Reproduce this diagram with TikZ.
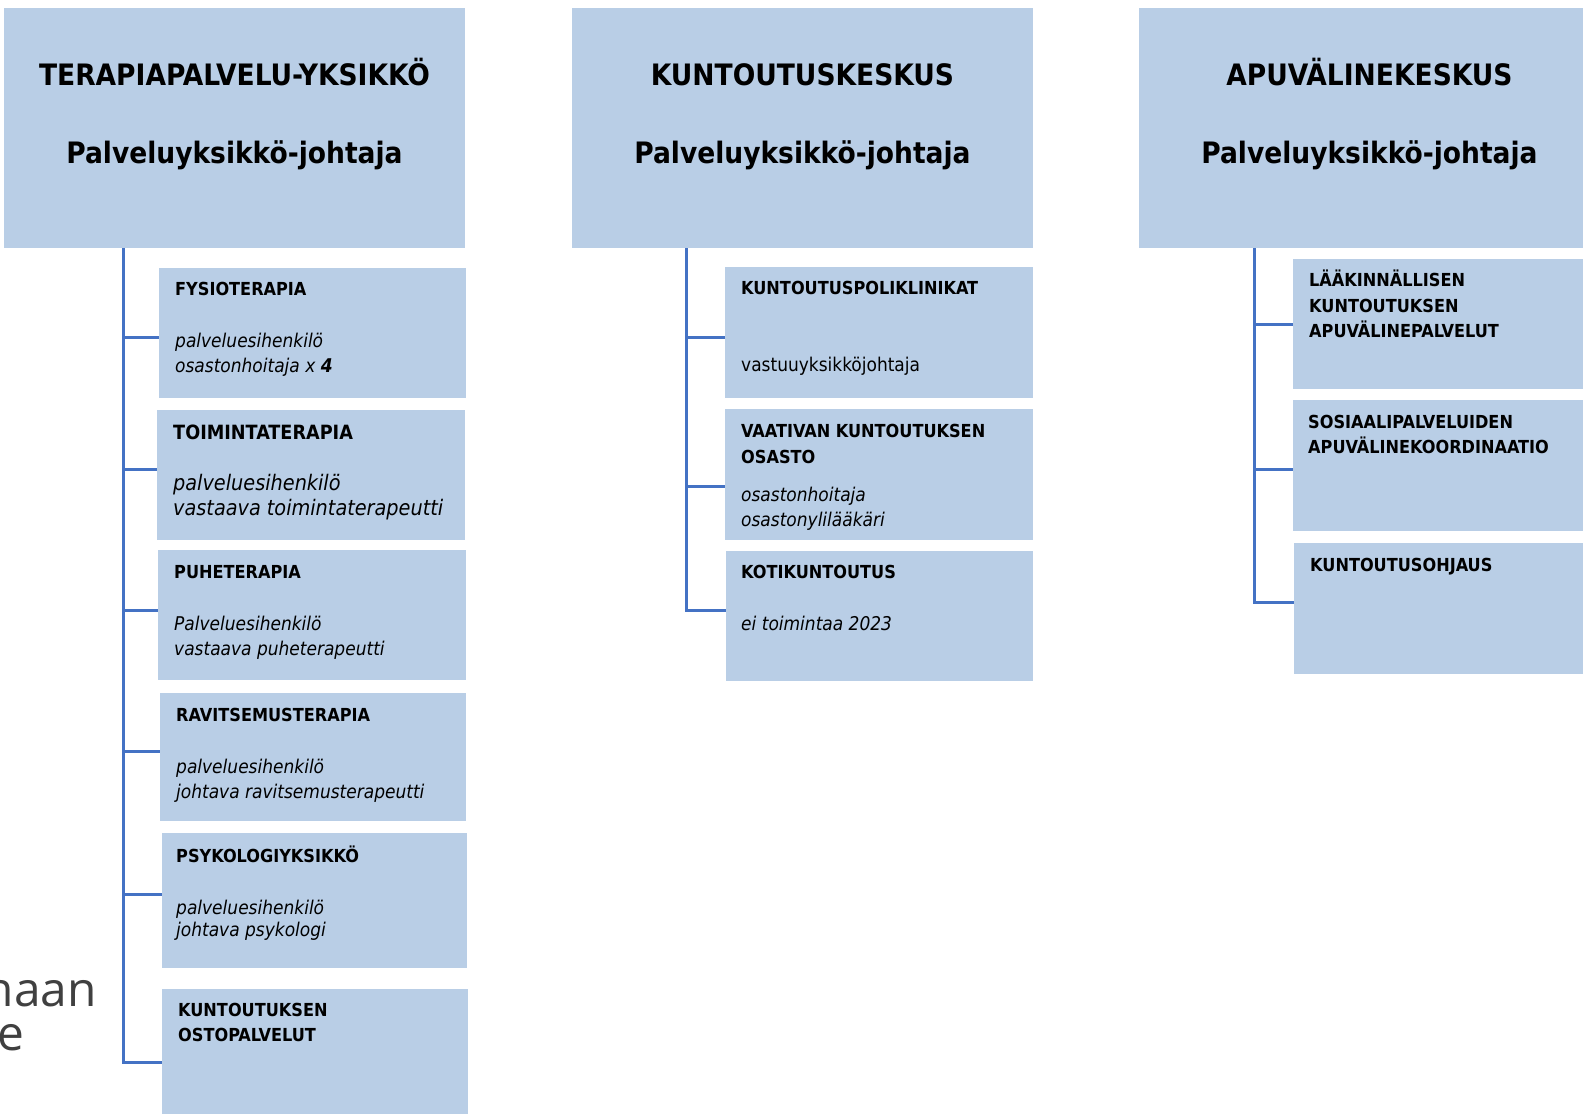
\documentclass[tikz,border=0pt]{standalone}
\usepackage{fontspec}
\setmainfont{DejaVu Sans Condensed}
\newfontfamily\grayfont{Open Sans}
\definecolor{boxfill}{RGB}{185,206,230}
\definecolor{connblue}{RGB}{68,114,196}
\definecolor{graytxt}{RGB}{64,64,64}
\tikzset{
  orgbox/.style={fill=boxfill, draw=none, anchor=north west, inner sep=0pt, outer sep=0pt},
  conn/.style={draw=connblue, line width=3bp},
  hdr/.style={font=\bfseries\fontsize{29.6}{34}\selectfont, anchor=base, inner sep=0pt},
  ttl/.style={font=\bfseries\fontsize{18}{22}\selectfont, anchor=base west, inner sep=0pt},
  bigttl/.style={font=\bfseries\fontsize{19.7}{23}\selectfont, anchor=base west, inner sep=0pt},
  itl/.style={font=\itshape\fontsize{19}{23}\selectfont, anchor=base west, inner sep=0pt},
  bigitl/.style={font=\itshape\fontsize{21.5}{25}\selectfont, anchor=base west, inner sep=0pt},
  reg/.style={font=\fontsize{19}{23}\selectfont, anchor=base west, inner sep=0pt},
  graytext/.style={font=\grayfont\fontsize{48}{52}\selectfont, text=graytxt, anchor=base east, inner sep=0pt}
}
\newcommand\obox[5]{\node[orgbox, minimum width=#4bp, minimum height=#5bp] (#1) at (#2,#3) {};}
\begin{document}
\begin{tikzpicture}[x=1bp,y=-1bp]
\useasboundingbox (0,0) rectangle (1583,1114);
\clip (0,0) rectangle (1583,1114);
\fill[white] (0,0) rectangle (1583,1114);

% header boxes
\obox{h1}{4}{8}{461}{240}
\obox{h2}{572}{8}{461}{240}
\obox{h3}{1139}{8}{461}{240}

% left column boxes
\obox{b1}{159}{268}{307}{130}
\obox{b2}{157}{410}{308}{130}
\obox{b3}{158}{550}{308}{130}
\obox{b4}{160}{693}{306}{128}
\obox{b5}{162}{833}{305}{135}
\obox{b6}{162}{989}{306}{125}

% middle column boxes
\obox{m1}{725}{267}{308}{131}
\obox{m2}{725}{409}{308}{131}
\obox{m3}{726}{551}{307}{130}

% right column boxes
\obox{r1}{1293}{259}{300}{130}
\obox{r2}{1293}{400}{300}{131}
\obox{r3}{1294}{543}{300}{131}

% connectors: left
\coordinate (L0) at (123,248);
\coordinate (L1) at (123,337);
\coordinate (L2) at (123,469);
\coordinate (L3) at (123,610);
\coordinate (L4) at (123,751);
\coordinate (L5) at (123,894);
\coordinate (L6) at (123,1062);
\draw[conn] (L0) -- (L6) -- (L6 -| b6.west);
\draw[conn] (L1) -- (L1 -| b1.west);
\draw[conn] (L2) -- (L2 -| b2.west);
\draw[conn] (L3) -- (L3 -| b3.west);
\draw[conn] (L4) -- (L4 -| b4.west);
\draw[conn] (L5) -- (L5 -| b5.west);

% connectors: middle
\coordinate (M0) at (686,248);
\coordinate (M1) at (686,337);
\coordinate (M2) at (686,486);
\coordinate (M3) at (686,610);
\draw[conn] (M0) -- (M3) -- (M3 -| m3.west);
\draw[conn] (M1) -- (M1 -| m1.west);
\draw[conn] (M2) -- (M2 -| m2.west);

% connectors: right
\coordinate (R0) at (1254,248);
\coordinate (R1) at (1254,324);
\coordinate (R2) at (1254,469);
\coordinate (R3) at (1254,602);
\draw[conn] (R0) -- (R3) -- (R3 -| r3.west);
\draw[conn] (R1) -- (R1 -| r1.west);
\draw[conn] (R2) -- (R2 -| r2.west);

% header texts
\node[hdr] (h1a) at (234.5,85) {TERAPIAPALVELU-YKSIKKÖ};
\node[hdr] (h1b) at (234.5,163) {Palveluyksikkö-johtaja};
\node[hdr] (h2a) at (802.5,85) {KUNTOUTUSKESKUS};
\node[hdr] (h2b) at (802.5,163) {Palveluyksikkö-johtaja};
\node[hdr] (h3a) at (1369.5,85) {APUVÄLINEKESKUS};
\node[hdr] (h3b) at (1369.5,163) {Palveluyksikkö-johtaja};

% left texts
\node[ttl] (b1t) at (175,295) {FYSIOTERAPIA};
\node[itl] (b1a) at (175,347) {palveluesihenkilö};
\node[itl] (b1b) at (175,372) {osastonhoitaja x \textbf{4}};

\node[bigttl] (b2t) at (173,439) {TOIMINTATERAPIA};
\node[bigitl] (b2a) at (173,490) {palveluesihenkilö};
\node[bigitl] (b2b) at (173,515) {vastaava toimintaterapeutti};

\node[ttl] (b3t) at (174,578) {PUHETERAPIA};
\node[itl] (b3a) at (174,630) {Palveluesihenkilö};
\node[itl] (b3b) at (174,655) {vastaava puheterapeutti};

\node[ttl] (b4t) at (176,721) {RAVITSEMUSTERAPIA};
\node[itl] (b4a) at (176,773) {palveluesihenkilö};
\node[itl] (b4b) at (176,798) {johtava ravitsemusterapeutti};

\node[ttl] (b5t) at (176,862) {PSYKOLOGIYKSIKKÖ};
\node[itl] (b5a) at (176,914) {palveluesihenkilö};
\node[itl] (b5b) at (176,936) {johtava psykologi};

\node[ttl] (b6t) at (178,1016) {KUNTOUTUKSEN};
\node[ttl] (b6u) at (178,1041) {OSTOPALVELUT};

% middle texts
\node[ttl] (m1t) at (741,294) {KUNTOUTUSPOLIKLINIKAT};
\node[reg] (m1a) at (741,371) {vastuuyksikköjohtaja};

\node[ttl] (m2t) at (741,437) {VAATIVAN KUNTOUTUKSEN};
\node[ttl] (m2u) at (741,463) {OSASTO};
\node[itl] (m2a) at (741,501) {osastonhoitaja};
\node[itl] (m2b) at (741,526) {osastonylilääkäri};

\node[ttl] (m3t) at (741,578) {KOTIKUNTOUTUS};
\node[itl] (m3a) at (741,630) {ei toimintaa 2023};

% right texts
\node[ttl] (r1t) at (1309,286) {LÄÄKINNÄLLISEN};
\node[ttl] (r1u) at (1309,312) {KUNTOUTUKSEN};
\node[ttl] (r1v) at (1309,337) {APUVÄLINEPALVELUT};

\node[ttl] (r2t) at (1308,428) {SOSIAALIPALVELUIDEN};
\node[ttl] (r2u) at (1308,453) {APUVÄLINEKOORDINAATIO};

\node[ttl] (r3t) at (1310,571) {KUNTOUTUSOHJAUS};

% partial background text at lower left
\node[graytext] (g1) at (97,1006) {naan};
\node[graytext] (g2) at (25,1050) {e};
\end{tikzpicture}
\end{document}
